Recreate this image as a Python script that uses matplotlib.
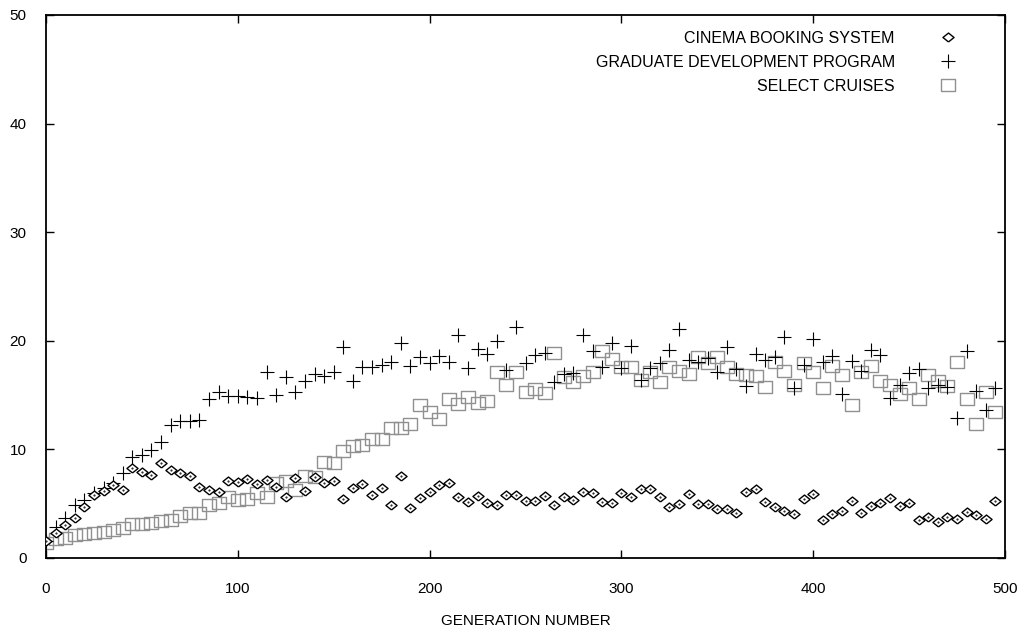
import matplotlib
matplotlib.use("Agg")
import matplotlib.pyplot as plt

plt.rcParams['font.family'] = ['Liberation Sans', 'DejaVu Sans']

generations = list(range(0, 500, 5))

cinema = [1.6, 2.3, 3.07, 3.7, 4.67, 5.8, 6.2, 6.75, 6.3, 8.3,
          7.95, 7.6, 8.7, 8.07, 7.8, 7.55, 6.57, 6.3, 6.1, 7.06,
          7.0, 7.27, 6.8, 7.18, 6.5, 5.65, 7.37, 6.17, 7.5, 6.9,
          7.1, 5.4, 6.4, 6.85, 5.8, 6.4, 4.85, 7.55, 4.57, 5.5,
          6.05, 6.7, 6.93, 5.6, 5.16, 5.7, 5.1, 4.85, 5.77, 5.83,
          5.25, 5.25, 5.7, 4.88, 5.59, 5.31, 6.1, 6.0, 5.13, 5.03,
          5.95, 5.59, 6.38, 6.38, 5.65, 4.67, 4.96, 5.88, 4.97, 4.97,
          4.51, 4.51, 4.17, 6.08, 6.32, 5.19, 4.73, 4.33, 4.02, 5.43,
          5.89, 3.5, 4.05, 4.35, 5.22, 4.17, 4.82, 5.1, 5.55, 4.79,
          5.03, 3.5, 3.8, 3.35, 3.74, 3.56, 4.27, 3.96, 3.56, 5.28]

graduate = [1.6, 2.88, 3.65, 4.88, 5.34, 6.0, 6.47, 6.93, 7.85, 9.33,
            9.48, 9.94, 10.71, 12.25, 12.64, 12.64, 12.7, 14.62, 15.26, 14.93,
            14.96, 14.85, 14.7, 17.08, 15.04, 16.67, 15.31, 16.33, 16.91, 16.79,
            17.15, 19.4, 16.3, 17.56, 17.62, 17.77, 18.08, 19.83, 17.71, 18.48,
            17.93, 18.6, 18.08, 20.53, 17.52, 19.22, 18.76, 20.01, 17.31, 21.3,
            17.93, 18.69, 18.85, 16.18, 16.91, 17.0, 20.53, 19.09, 17.62, 19.77,
            17.47, 19.52, 16.39, 17.47, 17.93, 19.15, 21.06, 18.2, 18.08, 18.39,
            17.15, 19.46, 17.37, 15.87, 18.78, 18.23, 18.48, 20.32, 15.63, 17.77,
            20.17, 18.02, 18.6, 15.1, 18.17, 17.25, 19.15, 18.69, 14.7, 15.93,
            17.0, 17.37, 15.63, 15.93, 15.77, 12.86, 19.09, 15.4, 13.63, 15.68]

cruises = [1.35, 1.72, 1.87, 2.12, 2.18, 2.27, 2.43, 2.58, 2.79, 3.13,
           3.13, 3.25, 3.4, 3.5, 3.87, 4.1, 4.1, 4.85, 5.1, 5.65,
           5.34, 5.43, 6.02, 5.65, 6.88, 7.12, 6.26, 7.55, 7.49, 8.84,
           8.78, 9.88, 10.31, 10.39, 10.99, 10.93, 12.0, 11.94, 12.31, 14.09,
           13.44, 12.8, 14.61, 14.18, 14.85, 14.3, 14.48, 17.15, 15.93, 17.15,
           15.31, 15.53, 15.22, 18.85, 16.7, 16.18, 16.76, 17.15, 19.06, 18.3,
           17.62, 17.62, 16.39, 17.15, 16.24, 17.62, 17.25, 16.92, 18.54, 17.98,
           18.54, 17.56, 16.94, 16.85, 16.76, 15.77, 18.08, 17.25, 15.93, 17.93,
           17.15, 15.63, 17.68, 16.85, 14.06, 17.15, 17.68, 16.33, 15.93, 15.1,
           15.63, 14.64, 16.85, 16.3, 15.87, 18.08, 14.61, 12.34, 15.26, 13.47]

labels = ['CINEMA BOOKING SYSTEM', 'GRADUATE DEVELOPMENT PROGRAM', 'SELECT CRUISES']

narrow = ['Liberation Sans Narrow', 'Liberation Sans', 'DejaVu Sans']

# slightly wide rectangle and diamond like gnuplot's point types
rect = [(-1.2, -1), (1.2, -1), (1.2, 1), (-1.2, 1), (-1.2, -1)]
diam = [(0, -0.8), (1, 0), (0, 0.8), (-1, 0), (0, -0.8)]

fig = plt.figure(figsize=(10.31, 6.35), dpi=100)
ax = fig.add_axes([0.0446, 0.1213, 0.9302, 0.8551])

ax.plot(generations, cruises, linestyle='none', marker=rect, markersize=10,
        markerfacecolor='none', markeredgecolor='#909090', markeredgewidth=1.0,
        label=labels[2], zorder=2)
ax.plot(generations, graduate, linestyle='none', marker='+', markersize=9.5,
        color='black', markeredgewidth=0.8, label=labels[1], zorder=3)
ax.plot(generations, cinema, linestyle='none', marker=diam, markersize=8,
        markerfacecolor='white', markeredgecolor='black', markeredgewidth=1.0,
        label=labels[0], zorder=4)
ax.plot(generations, cinema, linestyle='none', marker='.', markersize=1.0,
        color='black', zorder=5)

ax.set_xlim(0, 500)
ax.set_ylim(0, 50)
ax.set_xticks(range(0, 501, 100))
ax.set_yticks(range(0, 51, 10))
ax.tick_params(direction='in', length=6, width=1, top=True, right=True,
               labelsize=11, pad=17)
ax.tick_params(axis='y', pad=14)
for t in ax.get_xticklabels() + ax.get_yticklabels():
    t.set_family(narrow)
for s in ax.spines.values():
    s.set_linewidth(1.3)

ax.set_xlabel('GENERATION NUMBER', fontsize=11, family=narrow, labelpad=13)

h, l = ax.get_legend_handles_labels()
order = [2, 1, 0]
ax.legend([h[i] for i in order], [l[i] for i in order], loc='upper right',
          frameon=False, markerfirst=False, fontsize=11.5, handlelength=1.5,
          handletextpad=2.6, labelspacing=0.55, borderaxespad=0.6,
          bbox_to_anchor=(0.97, 1.0))

fig.savefig('out.png', dpi=100)
